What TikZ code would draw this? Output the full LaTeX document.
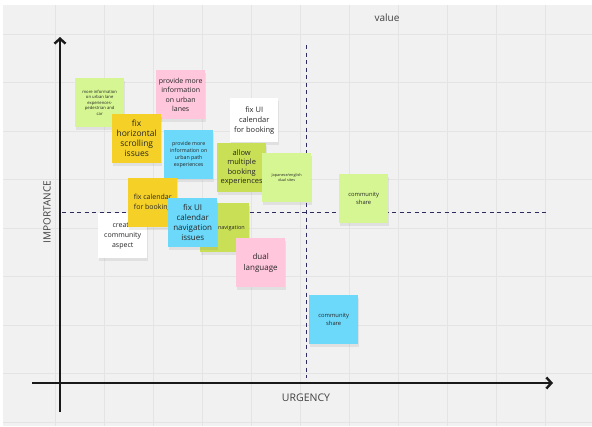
\documentclass[tikz,border=0pt]{standalone}
\usepackage{fontspec}
\setmainfont{Open Sans}
\usetikzlibrary{arrows.meta,shadows}
\definecolor{boardgray}{HTML}{F1F1F1}
\definecolor{gridgray}{HTML}{E4E4E4}
\definecolor{quadnavy}{HTML}{2E2C5E}
\definecolor{notelime}{HTML}{D5F692}
\definecolor{noteolive}{HTML}{C9DF56}
\definecolor{noteyellow}{HTML}{F5D128}
\definecolor{notepink}{HTML}{FFC6DC}
\definecolor{noteblue}{HTML}{6CD8FA}
\newcommand{\notesize}[2]{\fontsize{#1}{#2}\selectfont}

\begin{document}
\begin{tikzpicture}[x=1pt, y=-1pt,
      sticky/.style={anchor=north west, minimum width=49pt, minimum height=49pt,
                     inner sep=1pt, align=center, text=black!85,
                     drop shadow={shadow xshift=0.5pt, shadow yshift=-3pt, opacity=0.15}},
      axis/.style={line width=2.4pt, draw=black!90, -{Straight Barb[length=5pt, width=11pt]}},
      quad/.style={draw=quadnavy, line width=1pt, dash pattern=on 4pt off 3.5pt},
      axislabel/.style={text=black!75}
    ]
      \useasboundingbox (0,0) rectangle (592,426);
      \fill[white] (0,0) rectangle (592,426);
      \fill[boardgray] (3,5) rectangle (592,426);
      \foreach \gx in {55,104,153,202,251,300,349,398,447,496,545}
        \draw[gridgray, line width=0.7pt] (\gx,5) -- (\gx,426);
      \foreach \gy in {34,82,131,179,228,276,325,373,422}
        \draw[gridgray, line width=0.7pt] (3,\gy) -- (592,\gy);

      % axes and quadrant lines
      \coordinate (ybot) at (60,412);
      \coordinate (ytop) at (60,37);
      \coordinate (xleft) at (32,383);
      \coordinate (xright) at (553,383);
      \coordinate (vtop) at (306,45);
      \coordinate (vbot) at (306,378);
      \coordinate (hleft) at (62,212);
      \coordinate (hright) at (548,212);
      \draw[axis] (ybot) -- (ytop);
      \draw[axis] (xleft) -- (xright);
      \draw[quad] (vtop) -- (vbot);
      \draw[quad] (hleft) -- (hright);

      \node[axislabel, font=\notesize{10pt}{12pt}] (value) at (387,18) {value};
      \node[axislabel, font=\notesize{10pt}{12pt}, rotate=90] (importance) at (47,212) {IMPORTANCE};
      \node[axislabel, font=\notesize{10.5pt}{12pt}] (urgency) at (306,398) {URGENCY};

      % sticky notes
      \node[sticky, fill=notelime, font=\notesize{4.2pt}{5.6pt}] (urbanlane) at (75,78)
        {more information\\on urban lane\\experiences-\\pedestrian and\\car};
      \node[sticky, fill=notepink, font=\notesize{7pt}{9.5pt}] (urbanlanes) at (156,70)
        {provide more\\information\\on urban\\lanes};
      \node[sticky, fill=noteyellow, font=\notesize{8.5pt}{10pt}] (scrolling) at (112,114)
        {fix\\horizontal\\scrolling\\issues};
      \node[sticky, fill=noteblue, font=\notesize{5.3pt}{7pt}] (urbanpath) at (164,130)
        {provide more\\information on\\urban path\\experiences};
      \node[sticky, fill=white, minimum width=48pt, minimum height=44pt,
            font=\notesize{7.5pt}{10pt}] (calbooking) at (230,98)
        {fix UI\\calendar\\for booking};
      \node[sticky, fill=noteolive, font=\notesize{7.5pt}{9.5pt}] (multiple) at (217,143)
        {allow\\multiple\\booking\\experiences};
      \node[sticky, fill=notelime, font=\notesize{3.8pt}{5.5pt}] (dualsites) at (262,153)
        {Japanese/english\\dual sites};
      \node[sticky, fill=notelime, font=\notesize{5.8pt}{8pt}] (shareA) at (339,174)
        {community\\share};
      \node[sticky, fill=white, minimum height=45pt, font=\notesize{7pt}{10pt}] (community) at (98,213)
        {create\\community\\aspect};
      \node[sticky, fill=noteyellow, font=\notesize{7pt}{10pt}] (fixcal) at (128,178)
        {fix calendar\\for booking};
      \node[sticky, fill=noteolive, text width=40pt, align=right,
            font=\notesize{5.5pt}{7pt}] (navigation) at (200,203) {navigation};
      \node[sticky, fill=noteblue, font=\notesize{8pt}{10pt}] (navissues) at (168,198)
        {fix UI\\calendar\\navigation\\issues};
      \node[sticky, fill=notepink, font=\notesize{8pt}{11pt}] (duallang) at (236,238)
        {dual\\language};
      \node[sticky, fill=noteblue, font=\notesize{5.8pt}{8pt}] (shareB) at (309,295)
        {community\\share};
    \end{tikzpicture}
\end{document}
